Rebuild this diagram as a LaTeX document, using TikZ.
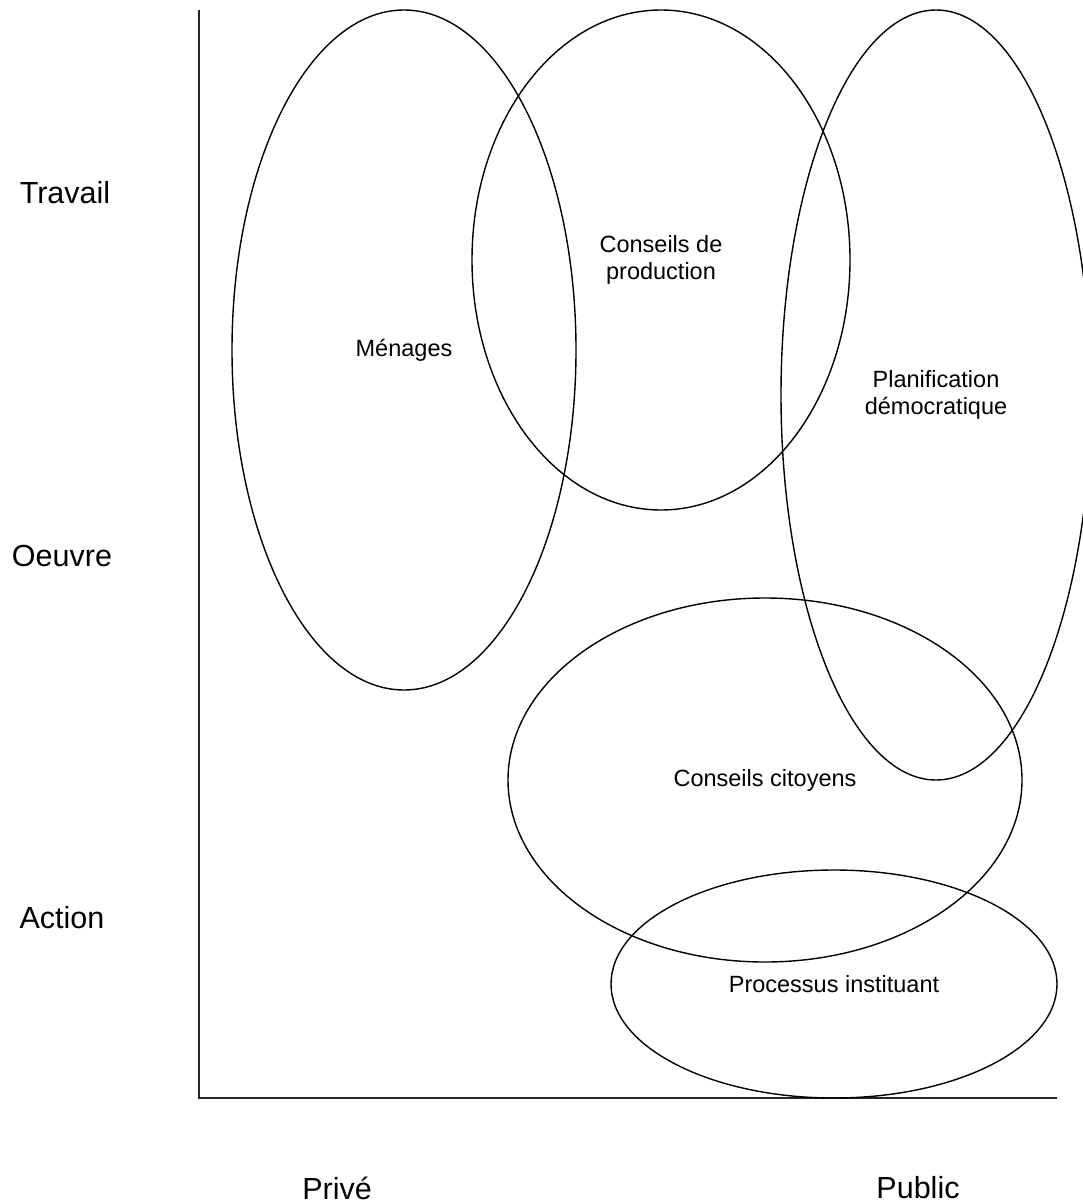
\documentclass[tikz,border=0pt]{standalone}
\usepackage{fontspec}
\setmainfont{Liberation Sans}
\begin{document}
\begin{tikzpicture}[x=1pt,y=-1pt,
  ell/.style={draw=black,line width=1.4pt},
  axis/.style={draw=black!85,line width=2pt},
  biglab/.style={font=\fontsize{30.5}{34}\selectfont,inner sep=0pt},
  smalllab/.style={font=\fontsize{23.5}{27}\selectfont,align=center,inner sep=0pt}]
\useasboundingbox (0,0) rectangle (1083,1204);
\clip (0,0) rectangle (1083,1204);
\coordinate (top) at (199,10);
\coordinate (orig) at (199,1098);
\coordinate (xend) at (1057,1098);
\draw[axis] (top) -- (orig) -- (xend);
\draw[ell] (404,350) ellipse [x radius=172,y radius=340];
\draw[ell] (661,260) ellipse [x radius=189,y radius=250];
\draw[ell] (936,395) ellipse [x radius=155,y radius=385];
\draw[ell] (765,780) ellipse [x radius=257,y radius=182];
\draw[ell] (834,984) ellipse [x radius=223,y radius=114];
\node[biglab] (travail) at (65,193) {Travail};
\node[biglab] (oeuvre) at (62,556) {Oeuvre};
\node[biglab] (action) at (62,918) {Action};
\node[biglab] (prive) at (337,1188) {Privé};
\node[biglab] (public) at (918,1188) {Public};
\node[smalllab] (menages) at (404,350) {Ménages};
\node[smalllab] (prod) at (661,260) {Conseils de\\production};
\node[smalllab] (plan) at (936,395) {Planification\\démocratique};
\node[smalllab] (cit) at (765,780) {Conseils citoyens};
\node[smalllab] (inst) at (834,984) {Processus instituant};
\end{tikzpicture}
\end{document}
